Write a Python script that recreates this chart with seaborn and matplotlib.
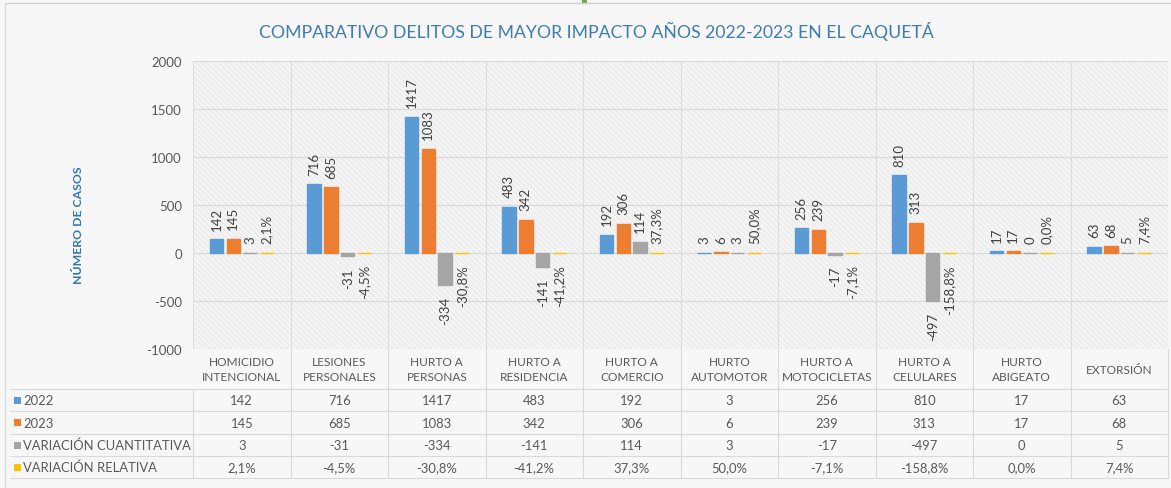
import matplotlib
matplotlib.use("Agg")
import matplotlib.pyplot as plt
import numpy as np
import pandas as pd
import seaborn as sns
from matplotlib.lines import Line2D
from matplotlib.patches import Rectangle

# ---- data -------------------------------------------------------------
categorias = ["HOMICIDIO\nINTENCIONAL", "LESIONES\nPERSONALES", "HURTO A\nPERSONAS",
              "HURTO A\nRESIDENCIA", "HURTO A\nCOMERCIO", "HURTO\nAUTOMOTOR",
              "HURTO A\nMOTOCICLETAS", "HURTO A\nCELULARES", "HURTO\nABIGEATO",
              "EXTORSIÓN"]
casos_2022 = [142, 716, 1417, 483, 192, 3, 256, 810, 17, 63]
casos_2023 = [145, 685, 1083, 342, 306, 6, 239, 313, 17, 68]
variacion_cuantitativa = [3, -31, -334, -141, 114, 3, -17, -497, 0, 5]
variacion_relativa = [2.1, -4.5, -30.8, -41.2, 37.3, 50.0, -7.1, -158.8, 0.0, 7.4]  # %

series = ["2022", "2023", "VARIACIÓN CUANTITATIVA", "VARIACIÓN RELATIVA"]
colores = ["#5B9BD5", "#ED7D31", "#A5A5A5", "#FFC000"]
y_ticks = [-1000, -500, 0, 500, 1000, 1500, 2000]


def fmt_pct(v):
    return f"{v:.1f}%".replace(".", ",")


# values as plotted (the relative change is a fraction, as in a % formatted cell)
valores_grafico = [casos_2022, casos_2023, variacion_cuantitativa,
                   [v / 100 for v in variacion_relativa]]
etiquetas = [[str(v) for v in casos_2022], [str(v) for v in casos_2023],
             [str(v) for v in variacion_cuantitativa],
             [fmt_pct(v) for v in variacion_relativa]]

filas = []
for s, vals in zip(series, valores_grafico):
    for c, v in zip(categorias, vals):
        filas.append({"Delito": c, "Serie": s, "Valor": v})
df = pd.DataFrame(filas)

# ---- figure -----------------------------------------------------------
sns.set_theme(style="white")
plt.rcParams["font.family"] = ["Lato", "DejaVu Sans"]
plt.rcParams["hatch.linewidth"] = 0.5

W, H = 1171, 489
fig = plt.figure(figsize=(W / 100, H / 100), dpi=100, facecolor="#F7F7F7")


def fx(px):
    return px / W


def fy(py):
    return 1 - py / H


X0, X1, Y0, Y1 = 193, 1168, 62, 350
ax = fig.add_axes([fx(X0), fy(Y1), fx(X1) - fx(X0), fy(Y0) - fy(Y1)])
ax.set_facecolor("#F4F4F4")
ax.add_patch(Rectangle((0, 0), 1, 1, transform=ax.transAxes, facecolor="none",
                       edgecolor="#E4E4E4", hatch="\\\\\\\\\\\\", lw=0, zorder=0.1))

sns.barplot(data=df, x="Delito", y="Valor", hue="Serie", hue_order=series,
            order=categorias, palette=colores, width=0.69, gap=0.2,
            saturation=1, legend=False, ax=ax, zorder=2)

for cont, col in zip(ax.containers, colores):
    for bar in cont:
        bar.set_edgecolor(col)
        bar.set_linewidth(1.0)

ax.set_xlim(-0.5, len(categorias) - 0.5)
ax.set_ylim(-1000, 2000)
ax.set_yticks(y_ticks)
ax.set_yticklabels([str(t) for t in y_ticks])
ax.tick_params(axis="y", length=0, pad=8, labelsize=9.5, labelcolor="#595959")
ax.tick_params(axis="x", length=0, labelbottom=False)
ax.set_xlabel("")
ax.set_ylabel("")
for sp in ax.spines.values():
    sp.set_visible(False)

for t in y_ticks:
    ax.axhline(t, color="#D9D9D9", lw=0.8, zorder=0.5)
for k in range(len(categorias) + 1):
    ax.axvline(k - 0.5, color="#DDDDDD", lw=0.8, zorder=0.5)

# value labels on the bars
for cont, vals, labs in zip(ax.containers, valores_grafico, etiquetas):
    for bar, v, s in zip(cont, vals, labs):
        xc = bar.get_x() + bar.get_width() / 2
        if v >= 0:
            ax.annotate(s, (xc, v), xytext=(0, 7), textcoords="offset points",
                        rotation=90, ha="center", va="bottom", fontsize=9.5,
                        color="#404040", zorder=3)
        else:
            ax.annotate(s, (xc, v), xytext=(0, -8), textcoords="offset points",
                        rotation=90, ha="center", va="top", fontsize=9.5,
                        color="#404040", zorder=3)

# ---- data table under the plot ----------------------------------------
col_w = (X1 - X0) / len(categorias)
gris_txt = "#595959"
linea = "#D9D9D9"

for i, c in enumerate(categorias):
    xc = X0 + (i + 0.5) * col_w
    fig.text(fx(xc), fy(370), c, ha="center", va="center", fontsize=8.6,
             color=gris_txt, linespacing=1.45)

filas_y = [390, 412, 435, 457, 479]
centros = [(a + b) / 2 for a, b in zip(filas_y[:-1], filas_y[1:])]
for yc, nombre, col, fila in zip(centros, series, colores, etiquetas):
    fig.add_artist(Rectangle((fx(14), fy(yc + 3.5)), fx(7), 7 / H,
                             transform=fig.transFigure, facecolor=col, lw=0))
    fig.text(fx(23), fy(yc), nombre, ha="left", va="center", fontsize=9.4,
             color=gris_txt)
    for i, s in enumerate(fila):
        xc = X0 + (i + 0.5) * col_w
        fig.text(fx(xc), fy(yc), s, ha="center", va="center", fontsize=9.4,
                 color=gris_txt)

for yl in filas_y:
    fig.add_artist(Line2D([fx(10), fx(X1)], [fy(yl), fy(yl)],
                          transform=fig.transFigure, color=linea, lw=0.8))
for b in range(len(categorias) + 1):
    xb = X0 + b * col_w
    ytop = 390 if b == 0 else Y1
    fig.add_artist(Line2D([fx(xb), fx(xb)], [fy(ytop), fy(479)],
                          transform=fig.transFigure, color=linea, lw=0.8))

# ---- titles and frame --------------------------------------------------
fig.text(fx(596), fy(31), "COMPARATIVO DELITOS DE MAYOR IMPACTO AÑOS 2022-2023 EN EL CAQUETÁ",
         ha="center", va="center", fontsize=12.7, color="#3E7CB9")
fig.text(fx(78), fy(225), "NÚMERO DE CASOS", rotation=90, ha="center",
         va="center", fontsize=8.8, fontweight="bold", color="#2F75B5")

fig.add_artist(Line2D([fx(5), fx(1171)], [fy(4), fy(4)],
                      transform=fig.transFigure, color="#CFCFCF", lw=1))
fig.add_artist(Line2D([fx(5), fx(5)], [fy(4), fy(489)],
                      transform=fig.transFigure, color="#DADADA", lw=1))
fig.add_artist(Rectangle((fx(582), fy(4)), fx(5), 4 / H,
                         transform=fig.transFigure, facecolor="#70AD47", lw=0))

fig.savefig("out.png", dpi=100, facecolor=fig.get_facecolor())
